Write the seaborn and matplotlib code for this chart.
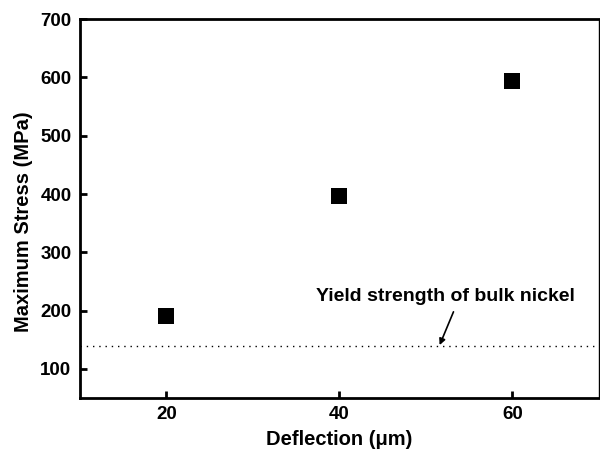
import matplotlib
matplotlib.use("Agg")
import matplotlib.pyplot as plt
import seaborn as sns
import pandas as pd

deflection = [20, 40, 60]
max_stress = [191, 396, 594]
yield_strength = 140
x_ticks = [20, 40, 60]
y_ticks = [100, 200, 300, 400, 500, 600, 700]

sns.set_style("white")
plt.rcParams['font.family'] = ['Liberation Sans', 'DejaVu Sans']
plt.rcParams['font.weight'] = 'bold'
plt.rcParams['text.color'] = 'black'
plt.rcParams['axes.labelcolor'] = 'black'
plt.rcParams['xtick.color'] = 'black'
plt.rcParams['ytick.color'] = 'black'

fig = plt.figure(figsize=(6, 4.55), dpi=100)
ax = fig.add_axes([0.133, 0.125, 0.865, 0.833])

df = pd.DataFrame({"Deflection": deflection, "Stress": max_stress})
sns.scatterplot(data=df, x="Deflection", y="Stress", marker="s", s=130,
                color="black", edgecolor="black", linewidth=0, ax=ax, zorder=3)

ax.axhline(yield_strength, color="black", linestyle=(0, (1, 3.5)), linewidth=1.0)

ax.text(52.3, 225, "Yield strength of bulk nickel", ha="center", va="center",
        fontsize=14, fontweight="bold", color="black")
ax.annotate("", xy=(51.6, 141), xytext=(53.2, 198),
            arrowprops=dict(arrowstyle="-|>", color="black", lw=1.2,
                            shrinkA=0, shrinkB=0, mutation_scale=9))

ax.set_xlim(10, 70)
ax.set_ylim(50, 700)
ax.set_xticks(x_ticks)
ax.set_yticks(y_ticks)
ax.tick_params(axis="both", direction="in", length=5, width=2, labelsize=13.5,
               left=True, bottom=True, pad=6, colors="black")
for lab in ax.get_xticklabels() + ax.get_yticklabels():
    lab.set_fontweight("bold")

ax.set_xlabel("Deflection (μm)", fontsize=14.5, fontweight="bold", labelpad=5, color="black")
ax.set_ylabel("Maximum Stress (MPa)", fontsize=14.5, fontweight="bold", color="black")
ax.yaxis.set_label_coords(-0.09, 0.465)

for side in ["left", "bottom", "top"]:
    ax.spines[side].set_linewidth(2)
    ax.spines[side].set_color("black")
ax.spines["right"].set_linewidth(1)
ax.spines["right"].set_color("black")

fig.savefig("out.png", dpi=100)
